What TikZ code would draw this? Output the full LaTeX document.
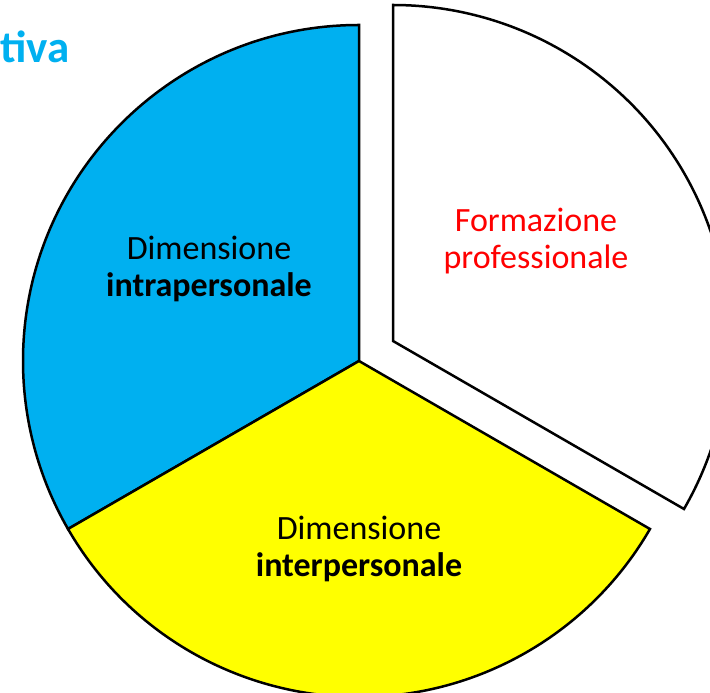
\documentclass[tikz,border=0pt]{standalone}
\usepackage{fontspec}
\setmainfont{Carlito}
\definecolor{piebluefill}{RGB}{0,176,240}
\definecolor{pieyellowfill}{RGB}{255,255,0}
\definecolor{piered}{RGB}{255,0,0}
\begin{document}
\begin{tikzpicture}[x=1pt,y=1pt,
  slice/.style={draw=black,line width=2.5pt,line join=miter},
  lbl/.style={anchor=base,inner sep=0pt,font=\fontsize{34}{37}\selectfont}]
\useasboundingbox (0,0) rectangle (710,693);
\clip (0,0) rectangle (710,693);
\coordinate (c) at (359,332);
\coordinate (w) at (393,352);
% blue slice
\filldraw[slice,fill=piebluefill] (c) -- ++(90:336) arc[start angle=90,end angle=210,radius=336] -- cycle;
% yellow slice
\filldraw[slice,fill=pieyellowfill] (c) -- ++(210:336) arc[start angle=210,end angle=330,radius=336] -- cycle;
% white exploded slice
\filldraw[slice,fill=white] (w) -- ++(-30:336) arc[start angle=-30,end angle=90,radius=336] -- cycle;
% labels
\node[lbl] (b1) at (209,433) {Dimensione};
\node[lbl] (b2) at (209,396) {\bfseries intrapersonale};
\node[lbl,text=piered] (r1) at (536,461) {Formazione};
\node[lbl,text=piered] (r2) at (536,424.5) {professionale};
\node[lbl] (y1) at (359,153) {Dimensione};
\node[lbl] (y2) at (359,116) {\bfseries interpersonale};
\node[anchor=base east,inner sep=0pt,text=piebluefill,font=\fontsize{45}{50}\selectfont\bfseries] (t) at (70,630) {tiva};
\end{tikzpicture}
\end{document}
